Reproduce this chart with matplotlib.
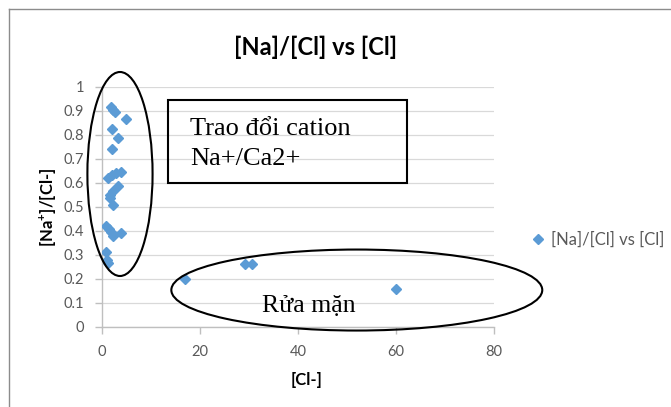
import matplotlib
matplotlib.use('Agg')
import matplotlib.pyplot as plt
from matplotlib.patches import Ellipse, Rectangle
from matplotlib.lines import Line2D

# values
cl = [1.8, 2.3, 2.6, 4.9, 2.0, 3.3, 2.1,
      1.3, 2.0, 2.9, 3.8, 3.3, 2.3, 1.6, 1.6, 2.2,
      0.9, 1.4, 1.8, 2.3, 3.8, 0.9, 1.1, 1.3,
      16.9, 29.2, 30.7, 60.0]
na_cl = [0.915, 0.905, 0.895, 0.865, 0.825, 0.786, 0.742,
         0.620, 0.633, 0.640, 0.645, 0.589, 0.567, 0.550, 0.536, 0.508,
         0.420, 0.410, 0.395, 0.380, 0.390, 0.314, 0.279, 0.265,
         0.200, 0.262, 0.262, 0.157]
x_ticks = [0, 20, 40, 60, 80]
y_ticks = [0, 0.1, 0.2, 0.3, 0.4, 0.5, 0.6, 0.7, 0.8, 0.9, 1]
y_tick_labels = ['0', '0.1', '0.2', '0.3', '0.4', '0.5', '0.6', '0.7', '0.8', '0.9', '1']
series_name = '[Na]/[Cl] vs [Cl]'

plt.rcParams['font.family'] = ['Lato', 'DejaVu Sans']
plt.rcParams['mathtext.fontset'] = 'custom'
plt.rcParams['mathtext.rm'] = 'Lato'
plt.rcParams['mathtext.bf'] = 'Lato:bold'

W, H = 671, 407
fig = plt.figure(figsize=(W / 100, H / 100), dpi=100)
ax = fig.add_axes([102 / W, 1 - 327 / H, 392 / W, 240 / H])

ax.plot(cl, na_cl, linestyle='none', marker='D', markersize=5.2,
        color='#5B9BD5', label=series_name, zorder=3)

ax.set_xlim(0, 80)
ax.set_ylim(0, 1)
ax.set_xticks(x_ticks)
ax.set_yticks(y_ticks)
ax.set_yticklabels(y_tick_labels)
ax.grid(axis='y', color='#D9D9D9', linewidth=0.9)
ax.set_axisbelow(True)
for s in ['top', 'right']:
    ax.spines[s].set_visible(False)
for s in ['left', 'bottom']:
    ax.spines[s].set_color('#BFBFBF')
    ax.spines[s].set_linewidth(1.0)
ax.tick_params(colors='#BFBFBF', labelcolor='#595959', labelsize=10.5,
               length=5, width=1, direction='out', pad=8)

ax.set_title(series_name, fontsize=17, fontweight='bold', x=(316 - 102) / 392, y=1.0,
             pad=23)
ax.set_xlabel('[Cl-]', fontsize=12, fontweight='bold', va='center')
ax.xaxis.set_label_coords((307 - 102) / 392, (327 - 380) / 240)
ax.set_ylabel(r'[Na$^{\mathbf{+}}$]/[Cl-]', fontsize=12, fontweight='bold', va='center')
ax.yaxis.set_label_coords((47 - 102) / 392, 0.5)

# annotations
ax.add_patch(Ellipse((3.67, 0.6375), 13.3, 0.85, fill=False, edgecolor='black',
                     linewidth=1.5, clip_on=False, zorder=4))
ax.add_patch(Ellipse((52.0, 0.154), 75.7, 0.3375, fill=False, edgecolor='black',
                     linewidth=1.5, clip_on=False, zorder=4))
ax.add_patch(Rectangle((13.5, 0.6), 48.7, 0.346, fill=False, edgecolor='black',
                       linewidth=1.5, clip_on=False, zorder=4))
ax.text(18.0, 0.80, 'Trao đổi cation', family='Liberation Serif', fontsize=19,
        va='baseline')
ax.text(18.0, 0.675, 'Na+/Ca2+', family='Liberation Serif', fontsize=19,
        va='baseline')
ax.text(32.6, 0.064, 'Rửa mặn', family='Liberation Serif', fontsize=18.5,
        va='baseline')

ax.legend(loc='center left', bbox_to_anchor=(530 / W, 1 - 240 / H),
          bbox_transform=fig.transFigure, frameon=False, fontsize=12,
          handlelength=0.9, handletextpad=0.35, borderpad=0, borderaxespad=0,
          labelcolor='#595959')

# chart area border
fig.add_artist(Line2D([9 / W, 9 / W], [0, 1 - 9 / H], color='#8C8C8C', linewidth=1))
fig.add_artist(Line2D([9 / W, 1], [1 - 9 / H, 1 - 9 / H], color='#8C8C8C', linewidth=1))

fig.savefig('out.png', dpi=100)
